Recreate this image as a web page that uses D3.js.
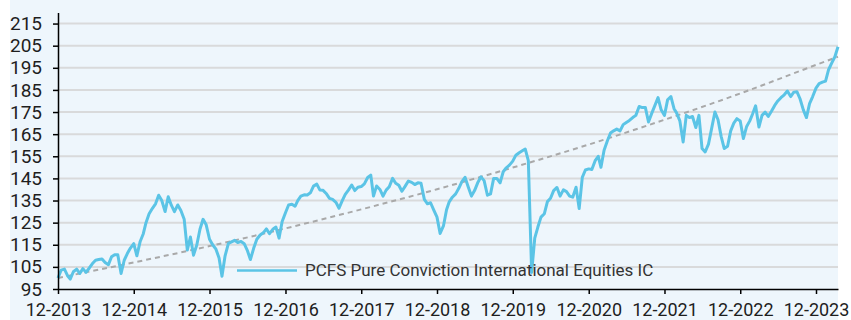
<!DOCTYPE html>
<html>
<head>
<meta charset="utf-8">
<script src="https://cdn.jsdelivr.net/npm/d3@7"></script>
<style>
  html, body { margin: 0; padding: 0; background: #ffffff; }
  svg { display: block; }
  .lbl { font-family: Roboto, "Liberation Sans", Arial, sans-serif; }
</style>
</head>
<body>
<svg id="chart" width="851" height="320"></svg>
<script>
// Fund value, indexed to 100 at 31-12-2013, one reading every half month
const seriesName = "PCFS Pure Conviction International Equities IC";
const fundValues = [
  100, 103.5, 104, 101, 99.5, 102.8, 104, 102, 104.2, 102.5,
  104.5, 106.5, 108, 108.3, 108.6, 107, 106, 109.6, 110.5, 110.5,
  102, 108, 111, 113.5, 115.5, 110, 116.5, 120, 125, 129,
  131.5, 133.5, 137.4, 135, 130, 136.7, 132.9, 130, 133, 130.5,
  126.5, 112.6, 118.5, 110.3, 115, 122, 126.5, 124, 117.5, 115,
  113, 109, 100.8, 110, 115.6, 116.3, 117, 116, 116.5, 115.5,
  112.5, 108.3, 113.5, 117.5, 119.4, 120.4, 122.2, 120, 122, 123,
  118, 125.5, 129.5, 133, 133.3, 132.4, 135, 137, 137.6, 137.5,
  138.5, 141.5, 142.4, 139.7, 139.6, 138.2, 136, 135.5, 134.2, 131.5,
  134.8, 137.8, 139.8, 142, 139.5, 141, 141.3, 142.5, 145.4, 146.5,
  137, 141.6, 140, 137, 139.7, 141.2, 145, 142.8, 141.9, 139.2,
  141.5, 143.8, 143.2, 142.2, 143, 142.8, 135.5, 133.5, 134, 130.8,
  127.5, 120.1, 123.5, 130.8, 134.4, 136.5, 138, 140.5, 143.5, 145.5,
  141, 137, 139.5, 143, 145.7, 144, 137.4, 138, 145, 145,
  143, 148, 149.8, 151, 152.8, 155.5, 156.6, 157.5, 158.3, 153,
  102.5, 118, 123, 127.5, 129, 134.5, 136, 139.5, 140.9, 137,
  139.8, 139, 137, 136.5, 141, 131.4, 145.5, 148.8, 149.3, 149,
  153, 155, 150, 157.7, 162, 165.5, 166.5, 167.3, 166.5, 169.3,
  170.3, 171.2, 172.5, 173.5, 177.5, 177, 177, 170.5, 174.5, 178,
  181.5, 176, 173.5, 180.5, 182, 176.5, 174.5, 171, 161.5, 173.5,
  172.5, 173, 168, 173.5, 158.5, 157, 160.5, 167.5, 175, 171.5,
  164, 158.5, 159.5, 166.5, 170, 172, 171, 163, 168.5, 171,
  174, 177.8, 168.2, 173.5, 175, 173, 175.5, 178, 180, 181.5,
  182.8, 184.5, 182, 184, 184.2, 181, 176, 172.5, 178.8, 182,
  185.8, 187.8, 188.5, 189, 194, 197, 200, 204.5
];

// Target path: value at each year-end, plus the last valuation date
const trendDates = ["2013-12-31", "2014-12-31", "2015-12-31", "2016-12-31", "2017-12-31",
  "2018-12-31", "2019-12-31", "2020-12-31", "2021-12-31", "2022-12-31", "2023-12-31", "2024-04-15"];
const trendValues = [100, 107.0, 114.4, 122.4, 131.0, 140.1, 149.9, 160.3, 171.5, 183.4, 196.3, 200.0];

const yTicks = [95, 105, 115, 125, 135, 145, 155, 165, 175, 185, 195, 205, 215];
const xTickLabels = ["12-2013", "12-2014", "12-2015", "12-2016", "12-2017", "12-2018",
  "12-2019", "12-2020", "12-2021", "12-2022", "12-2023"];

const parse = d3.timeParse("%Y-%m-%d");
const startDate = parse("2013-12-31");

// Half-month valuation dates: 15th and last day of each month
function valuationDate(i) {
  if (i % 2 === 0) {
    const m = d3.timeMonth.offset(d3.timeMonth.floor(startDate), i / 2 + 1);
    return d3.timeDay.offset(m, -1);
  }
  const m = d3.timeMonth.offset(d3.timeMonth.floor(startDate), (i + 1) / 2);
  return d3.timeDay.offset(m, 14);
}

const fund = fundValues.map((v, i) => ({ date: valuationDate(i), value: v }));
const trend = trendDates.map((d, i) => ({ date: parse(d), value: trendValues[i] }));
const tickDates = xTickLabels.map(s => {
  const [mm, yy] = s.split("-").map(Number);
  return d3.timeDay.offset(new Date(yy, mm, 1), -1);
});

const svg = d3.select("#chart");
const H = 320;
const plot = { left: 58, right: 838, top: 12.5, bottom: 289 };

const x = d3.scaleTime()
  .domain([startDate, fund[fund.length - 1].date])
  .range([plot.left, plot.right]);
const y = d3.scaleLinear()
  .domain([95, 220])
  .range([plot.bottom, plot.top]);

// panel background
svg.append("rect")
  .attr("x", 10).attr("y", 0)
  .attr("width", plot.right - 10).attr("height", H)
  .attr("fill", "#eef6fc");

// horizontal grid
svg.append("g")
  .selectAll("line")
  .data(yTicks.filter(v => v > 95))
  .join("line")
  .attr("x1", plot.left).attr("x2", plot.right)
  .attr("y1", d => y(d)).attr("y2", d => y(d))
  .attr("stroke", "#d9dadb")
  .attr("stroke-width", 2);

// target path
svg.append("path")
  .datum(trend)
  .attr("fill", "none")
  .attr("stroke", "#a9a9a9")
  .attr("stroke-width", 2)
  .attr("stroke-dasharray", "5,4")
  .attr("d", d3.line().x(d => x(d.date)).y(d => y(d.value)).curve(d3.curveMonotoneX));

// fund line
svg.append("path")
  .datum(fund)
  .attr("fill", "none")
  .attr("stroke", "#5bc4e6")
  .attr("stroke-width", 3)
  .attr("stroke-linejoin", "round")
  .attr("d", d3.line().x(d => x(d.date)).y(d => y(d.value)));

// y axis
const yAxis = svg.append("g")
  .attr("transform", `translate(${plot.left},0)`)
  .call(d3.axisLeft(y).tickValues(yTicks).tickSize(5).tickPadding(11).tickSizeOuter(0));

// x axis
const xAxis = svg.append("g")
  .attr("transform", `translate(0,${plot.bottom})`)
  .call(d3.axisBottom(x).tickValues(tickDates)
    .tickFormat((d, i) => xTickLabels[i]).tickSize(5).tickPadding(9).tickSizeOuter(0));

[yAxis, xAxis].forEach(ax => {
  ax.attr("font-family", null).attr("font-size", null);
  ax.select(".domain").attr("stroke", "#000").attr("stroke-width", 1.5);
  ax.selectAll(".tick line").attr("stroke", "#000").attr("stroke-width", 1.5);
  ax.selectAll(".tick text")
    .attr("class", "lbl")
    .attr("fill", "#1e1e1e");
});
yAxis.selectAll(".tick text").attr("font-size", 19);
xAxis.selectAll(".tick text").attr("font-size", 18);

// legend
const legend = svg.append("g").attr("transform", "translate(237,270.5)");
legend.append("line")
  .attr("x1", 0).attr("x2", 60)
  .attr("stroke", "#5bc4e6").attr("stroke-width", 2.6);
legend.append("text")
  .attr("class", "lbl")
  .attr("x", 68).attr("dy", "0.35em")
  .attr("font-size", 17)
  .attr("fill", "#333")
  .text(seriesName);
</script>
</body>
</html>
